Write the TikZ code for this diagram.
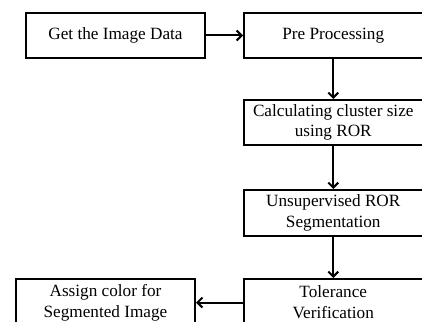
\documentclass[tikz,border=0pt]{standalone}
\usepackage{fontspec}
\setmainfont{Liberation Serif}
\usetikzlibrary{arrows.meta}
\begin{document}
\begin{tikzpicture}[x=1pt,y=-1pt,
  stepbox/.style={draw=black, line width=2pt, rectangle, inner sep=0pt,
    minimum width=178.5pt, minimum height=45pt, align=center,
    font=\fontsize{17.2}{20.7}\selectfont},
  flow/.style={draw=black, line width=2pt,
    -{Straight Barb[length=5pt,width=10pt,line width=2pt]}}]
  \useasboundingbox (0,0) rectangle (422,321);
  \node[stepbox, minimum width=179pt] (get) at (115.5,35.5) {Get the Image Data};
  \node[stepbox] (pre) at (333.25,35.5) {Pre Processing};
  \node[stepbox] (calc) at (333.25,122.5) {Calculating cluster size\\using ROR};
  \node[stepbox, minimum height=46pt] (seg) at (333.25,213) {Unsupervised ROR\\Segmentation};
  \node[stepbox, minimum height=47pt] (tol) at (333.25,302.5) {Tolerance\\Verification};
  \node[stepbox, minimum width=179pt, minimum height=47pt] (col) at (105.5,302.5) {Assign color for\\Segmented Image};
  \draw[flow] (get) -- (pre);
  \draw[flow] (pre) -- (calc);
  \draw[flow] (calc) -- (seg);
  \draw[flow] (seg) -- (tol);
  \draw[flow] (tol) -- (col);
\end{tikzpicture}
\end{document}
